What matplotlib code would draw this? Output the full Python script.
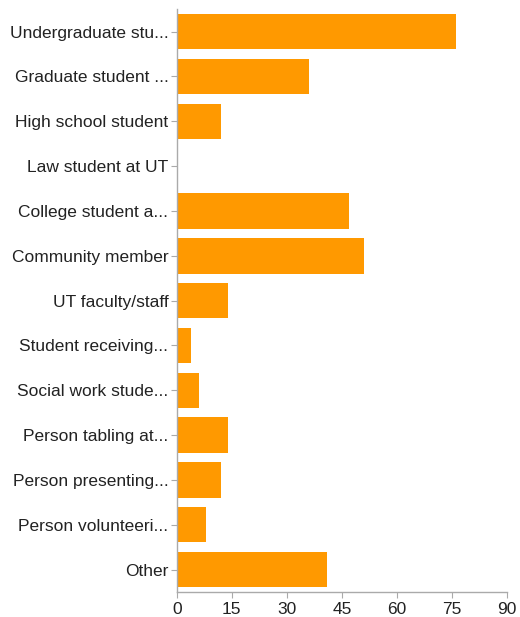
import numpy as np
import matplotlib.pyplot as plt

plt.rcParams['font.family'] = ['Liberation Sans', 'DejaVu Sans']

categories = ["Undergraduate stu...", "Graduate student ...", "High school student",
              "Law student at UT", "College student a...", "Community member",
              "UT faculty/staff", "Student receiving...", "Social work stude...",
              "Person tabling at...", "Person presenting...", "Person volunteeri...",
              "Other"]
counts = [76, 36, 12, 0, 47, 51, 14, 4, 6, 14, 12, 8, 41]
xticks = [0, 15, 30, 45, 60, 75, 90]

fig = plt.figure(figsize=(5.2, 6.17), dpi=100)
ax = fig.add_axes([0.340, 0.0405, 0.635, 0.9445])

index = np.arange(len(categories))
ax.barh(index, counts, height=0.79, color='#FF9900', edgecolor='none')

ax.set_ylim(len(categories) - 0.5, -0.5)
ax.set_xlim(0, 90)
ax.set_xticks(xticks)
ax.set_yticks(index)
ax.set_yticklabels(categories)

for s in ['top', 'right']:
    ax.spines[s].set_visible(False)
for s in ['left', 'bottom']:
    ax.spines[s].set_color('#aaaaaa')
    ax.spines[s].set_linewidth(1.0)

ax.tick_params(axis='y', length=4, color='#aaaaaa', labelsize=12.5, labelcolor='#222222', pad=2)
ax.tick_params(axis='x', length=4, color='#aaaaaa', labelsize=12.5, labelcolor='#222222', pad=3)

plt.savefig("out.png", dpi=100)
